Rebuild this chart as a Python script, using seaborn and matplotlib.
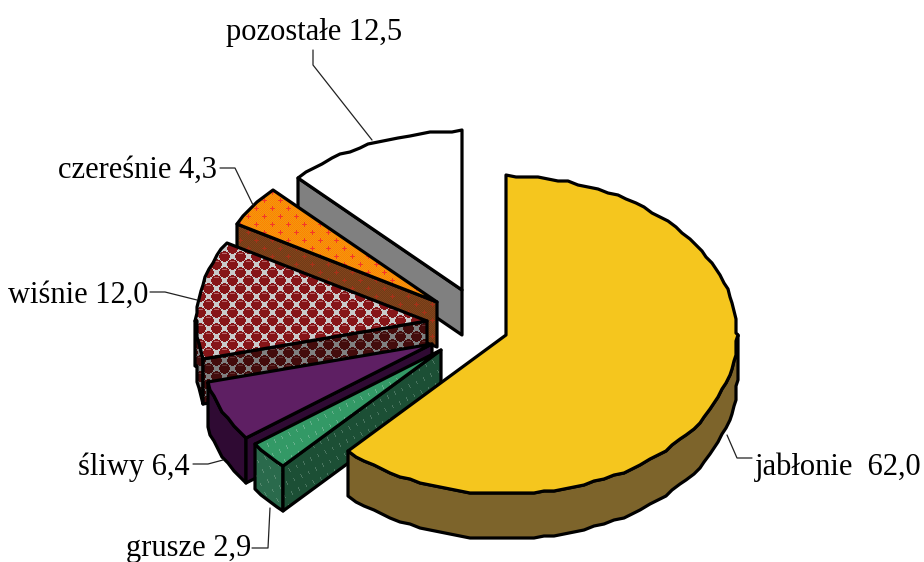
import numpy as np
import matplotlib
matplotlib.use('Agg')
import matplotlib.pyplot as plt
from matplotlib.patches import Polygon
import seaborn as sns

# data
categories = ['jabłonie ', 'grusze', 'śliwy', 'wiśnie', 'czereśnie', 'pozostałe']
values = [62.0, 2.9, 6.4, 12.0, 4.3, 12.5]

# pull of each slice from the pie centre, pixels
center = (470, 325)
pull_x = [36, -29, -38, -43, -33, -8]
pull_y = [10, 25, 19, -4, -23, -35]
rx, ry, depth = 231, 159, 45

W, H = 924, 562
yy, xx = np.mgrid[0:H, 0:W]


def rgb(c):
    return np.array(matplotlib.colors.to_rgb(c))


def flat(c):
    return np.ones((H, W, 3)) * rgb(c)


def balls(ball, back, shine):
    img = flat(back)
    for ox, oy in [(0, 0), (8, 8)]:
        dx = (xx - ox + 8) % 16 - 8
        dy = (yy - oy + 8) % 16 - 8
        img[dx**2 + dy**2 <= 26] = rgb(ball)
        img[(np.abs(dx) <= 2) & (dy == -3)] = rgb(shine)
    return img


def dots(base, alt, dot):
    img = np.where(((xx + yy) % 2 == 0)[..., None], rgb(base), rgb(alt))
    for ox, oy in [(0, 0), (8, 8)]:
        dx = (xx - ox + 8) % 16 - 8
        dy = (yy - oy + 8) % 16 - 8
        img[((np.abs(dx) <= 2) & (dy == 0)) | ((np.abs(dy) <= 2) & (dx == 0))] = rgb(dot)
    return img


def dashes(base, dash):
    img = flat(base)
    u = (xx + 2 * yy) % 24
    v = (2 * xx - yy) % 18
    img[(u < 9) & (v < 2)] = rgb(dash)
    return img


top_fill = [flat('#F5C61E'), dashes('#339966', '#66B08C'), flat('#5E1F63'),
            balls('#861518', '#CACACA', '#B86468'),
            dots('#FF8000', '#F09A10', '#F53828'), flat('#FFFFFF')]
face_fill = [flat('#7D642B'), dashes('#1C4F35', '#4A7560'), flat('#2F0A33'),
             balls('#430C0C', '#808080', '#603030'),
             dots('#84431A', '#703C18', '#A83018'), flat('#808080')]
rim_fill = [flat('#7D642B'), dashes('#2A6A4C', '#55886F'), flat('#2F0A33'),
            balls('#430C0C', '#808080', '#603030'),
            dots('#84431A', '#703C18', '#A83018'), flat('#808080')]

# label text position (left, baseline) and leader line
label_pos = [(755, 475), (126, 556), (78, 475), (8, 303), (58, 178), (226, 40)]
leaders = [[(752, 458), (737, 458), (727, 435)],
           [(252, 548), (268, 548), (270, 508)],
           [(193, 464), (208, 464), (223, 460)],
           [(150, 292), (165, 292), (197, 300)],
           [(220, 168), (235, 168), (253, 205)],
           [(313, 50), (313, 65), (372, 140)]]

sns.set_theme(style='white')
plt.rcParams['font.family'] = ['Liberation Serif', 'DejaVu Serif']

fig = plt.figure(figsize=(9.24, 5.62), dpi=100)
ax = fig.add_axes([0, 0, 1, 1])


def paint(points, img, z):
    # image fill clipped to the polygon, then the black outline
    outline = Polygon(points, closed=True, fc='none', ec='black', lw=2.3,
                      joinstyle='round', zorder=z + 0.5)
    ax.add_patch(outline)
    im = ax.imshow(img, extent=(0, W, H, 0), aspect='auto', interpolation='nearest', zorder=z)
    im.set_clip_path(outline)


def arc_angles(a, b):
    # coarse steps, the outline in the picture is slightly jagged
    steps = np.linspace(a, b, max(2, int((b - a) / np.radians(2.6)) + 1))
    turns = [t for t in (np.pi / 2, 3 * np.pi / 2) if a < t < b]
    return np.union1d(steps, turns)


fractions = np.array(values) / np.sum(values)
ends = np.cumsum(fractions) * 2 * np.pi
starts = ends - fractions * 2 * np.pi

z = 1
for i in [5, 4, 3, 2, 1, 0]:
    cx = center[0] + pull_x[i]
    cy = center[1] + pull_y[i]
    t0, t1 = starts[i], ends[i]
    angles = arc_angles(t0, t1)

    def on_rim(t):
        return (cx + np.round(rx * np.sin(t) / 2) * 2, cy - np.round(ry * np.cos(t) / 2) * 2)

    # front rim: only the part in the lower half of the ellipse shows
    front = angles[(angles >= np.pi / 2) & (angles <= 3 * np.pi / 2)]
    if len(front) > 1:
        arc = [on_rim(t) for t in front]
        rim = arc + [(x, y + depth) for x, y in arc[::-1]]
        paint(rim, rim_fill[i], z)
        z += 1
    # radial faces
    if np.sin(t0) < -1e-6:
        p = on_rim(t0)
        paint([(cx, cy), p, (p[0], p[1] + depth), (cx, cy + depth)], face_fill[i], z)
        z += 1
    if np.sin(t1) > 1e-6:
        p = on_rim(t1)
        paint([(cx, cy), p, (p[0], p[1] + depth), (cx, cy + depth)], face_fill[i], z)
        z += 1
    # top
    top = [(cx, cy)] + [on_rim(t) for t in angles]
    paint(top, top_fill[i], z)
    z += 1

for i, name in enumerate(categories):
    text = f'{name} {values[i]:.1f}'.replace('.', ',')
    ax.text(label_pos[i][0], label_pos[i][1], text, fontsize=22, color='black',
            ha='left', va='baseline', zorder=50)
    lx, ly = zip(*leaders[i])
    ax.plot(lx, ly, color='#222222', lw=0.9, zorder=49)

ax.set_xlim(0, W)
ax.set_ylim(H, 0)
ax.axis('off')
fig.savefig('out.png', dpi=100, facecolor='white')
